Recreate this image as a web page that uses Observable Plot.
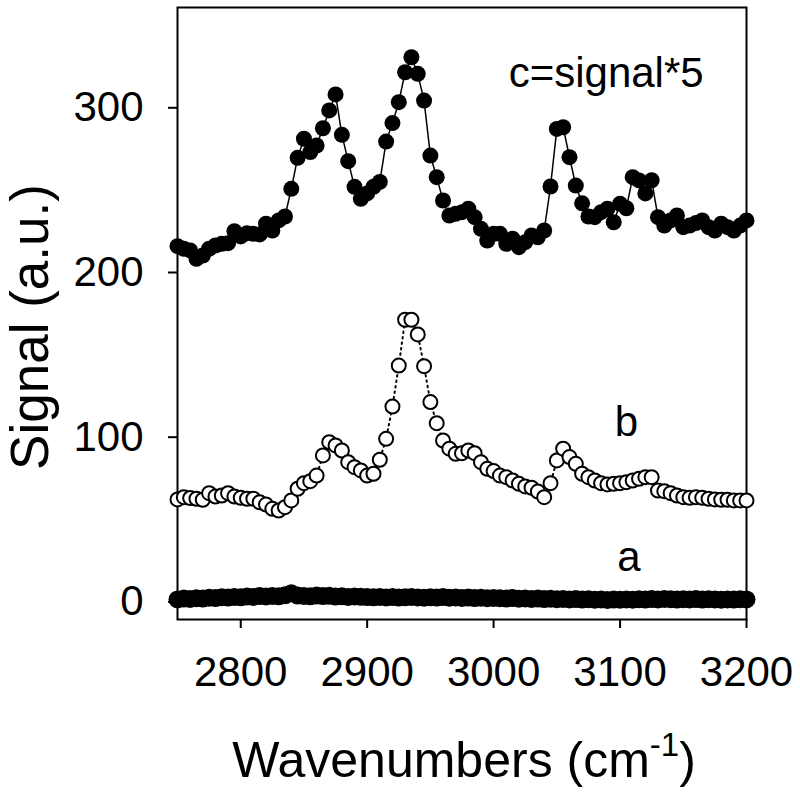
<!DOCTYPE html>
<html>
<head>
<meta charset="utf-8">
<script src="https://cdn.jsdelivr.net/npm/d3@7"></script>
<script src="https://cdn.jsdelivr.net/npm/@observablehq/plot@0.6"></script>
<style>
  html, body { margin: 0; padding: 0; background: white; }
  #chart svg { display: block; }
</style>
</head>
<body>
<div id="chart"></div>
<script>
// Wavenumbers (cm-1), shared by the three spectra
const wavenumbers = [
  2750,2755,2760,2765,2770,2775,2780,2785,2790,2795,
  2800,2805,2810,2815,2820,2825,2830,2835,2840,2845,
  2850,2855,2860,2865,2870,2875,2880,2885,2890,2895,
  2900,2905,2910,2915,2920,2925,2930,2935,2940,2945,
  2950,2955,2960,2965,2970,2975,2980,2985,2990,2995,
  3000,3005,3010,3015,3020,3025,3030,3035,3040,3045,
  3050,3055,3060,3065,3070,3075,3080,3085,3090,3095,
  3100,3105,3110,3115,3120,3125,3130,3135,3140,3145,
  3150,3155,3160,3165,3170,3175,3180,3185,3190,3195,
  3200
];

// Series a (filled dots near zero)
const seriesA = [
  1.5,2.0,1.8,2.2,2.0,2.5,2.3,2.8,2.6,3.0,
  2.8,3.2,3.0,3.5,3.3,3.6,3.4,4.0,5.2,3.8,
  3.6,3.4,3.8,3.5,3.7,3.2,3.4,3.0,3.3,3.1,
  2.9,2.8,3.0,2.7,2.9,2.6,2.8,3.0,2.7,2.5,
  2.8,2.6,2.9,2.5,2.7,2.4,2.6,2.3,2.5,2.2,
  2.4,2.2,2.0,2.3,1.9,2.1,1.8,2.0,1.7,1.9,
  1.6,1.8,1.5,1.7,1.4,1.6,1.3,1.5,1.2,1.4,
  1.3,1.5,1.3,1.6,1.4,1.7,1.5,1.8,1.6,1.4,
  1.6,1.5,1.7,1.4,1.6,1.5,1.3,1.5,1.4,1.6,
  1.5
];

// Series b (open circles, dotted line)
const seriesB = [
  62.2,63.6,63.0,62.6,62.0,66.0,64.0,64.6,66.0,64.0,
  63.2,62.6,62.6,60.5,59.1,56.5,55.5,57.5,61.6,68.7,
  72.1,73.3,76.7,88.9,97.0,95.0,91.9,84.8,81.8,79.8,
  76.7,77.8,86.3,99.0,118.6,143.5,171.3,171.3,162.4,143.1,
  121.3,108.5,98.0,93.0,89.9,90.3,91.9,90.3,84.8,80.8,
  79.4,76.7,75.7,73.7,71.7,70.1,69.3,67.0,63.6,72.1,
  85.9,93.0,87.9,83.8,77.8,75.7,73.7,72.1,71.3,71.7,
  72.1,72.7,73.7,74.7,75.7,75.7,67.6,67.2,66.0,64.6,
  63.6,63.2,63.6,63.2,62.6,62.2,62.0,62.0,61.6,61.6,
  61.6
];

// Series c = signal*5 (filled dots, solid line)
const seriesC = [
  216.0,214.4,213.4,208.3,210.3,214.4,216.4,217.4,217.8,225.1,
  221.9,223.9,223.5,223.1,229.6,225.5,231.6,234.0,250.8,269.6,
  281.2,273.1,277.1,287.6,298.4,308.1,283.6,267.6,252.0,244.7,
  248.0,252.0,255.0,279.5,290.7,303.4,321.6,330.7,320.6,304.4,
  271.0,257.9,243.7,234.6,235.6,236.6,238.7,233.6,226.5,219.4,
  223.5,223.5,217.4,220.5,215.4,218.4,222.5,221.4,225.5,252.2,
  287.2,288.2,270.0,252.8,242.0,234.0,233.6,236.6,238.7,230.5,
  241.7,239.0,257.9,255.9,248.0,256.0,233.6,228.5,231.6,234.6,
  227.5,228.5,230.0,231.6,227.5,225.5,229.6,227.5,225.5,228.5,
  231.6
];

const xTicks = [2800, 2900, 3000, 3100, 3200];
const yTicks = [0, 100, 200, 300];

const labelText = ["c=signal*5", "b", "a"];
const labelX = [3089, 3105, 3107];
const labelY = [321, 109, 27];

const rows = (vals) => wavenumbers.map((w, i) => ({w, v: vals[i]}));
const dataA = rows(seriesA);
const dataB = rows(seriesB);
const dataC = rows(seriesC);
const labels = labelText.map((t, i) => ({t, x: labelX[i], y: labelY[i]}));

const font = "'Liberation Sans', Arial, Helvetica, sans-serif";

const chart = Plot.plot({
  width: 800,
  height: 794,
  marginLeft: 177,
  marginRight: 54,
  marginTop: 7,
  marginBottom: 175,
  style: {fontFamily: font, fontSize: "42px", color: "black", background: "white"},
  x: {domain: [2750, 3200]},
  y: {domain: [-10.7, 360.9]},
  marks: [
    Plot.axisX({ticks: xTicks, tickSize: 9, tickPadding: 28, tickFormat: "d", strokeWidth: 2, label: null, fontSize: 42}),
    Plot.axisY({ticks: yTicks, tickSize: 9, tickPadding: 25, tickFormat: "d", strokeWidth: 2, label: null, fontSize: 42}),
    Plot.frame({stroke: "black", strokeWidth: 2}),
    Plot.line(dataC, {x: "w", y: "v", stroke: "black", strokeWidth: 1.5}),
    Plot.line(dataB, {x: "w", y: "v", stroke: "black", strokeWidth: 2, strokeDasharray: "1.5,4"}),
    Plot.dot(dataA, {x: "w", y: "v", r: 9, fill: "black"}),
    Plot.dot(dataB, {x: "w", y: "v", r: 7, fill: "white", stroke: "black", strokeWidth: 2}),
    Plot.dot(dataC, {x: "w", y: "v", r: 8, fill: "black"}),
    Plot.text(labels, {x: "x", y: "y", text: "t", fontSize: 42, fill: "black"})
  ]
});

document.getElementById("chart").appendChild(chart);

// Axis titles (with superscript)
const svg = d3.select(chart);
const xt = svg.append("text")
  .attr("x", 464).attr("y", 777)
  .attr("text-anchor", "middle")
  .attr("font-family", font)
  .attr("font-size", 50)
  .attr("fill", "black");
xt.append("tspan").text("Wavenumbers (cm");
xt.append("tspan").attr("dy", -21).attr("font-size", 33).text("-1");
xt.append("tspan").attr("dy", 21).text(")");

svg.append("text")
  .attr("transform", "translate(48,327) rotate(-90)")
  .attr("text-anchor", "middle")
  .attr("font-family", font)
  .attr("font-size", 53)
  .attr("fill", "black")
  .text("Signal (a.u.)");
</script>
</body>
</html>
